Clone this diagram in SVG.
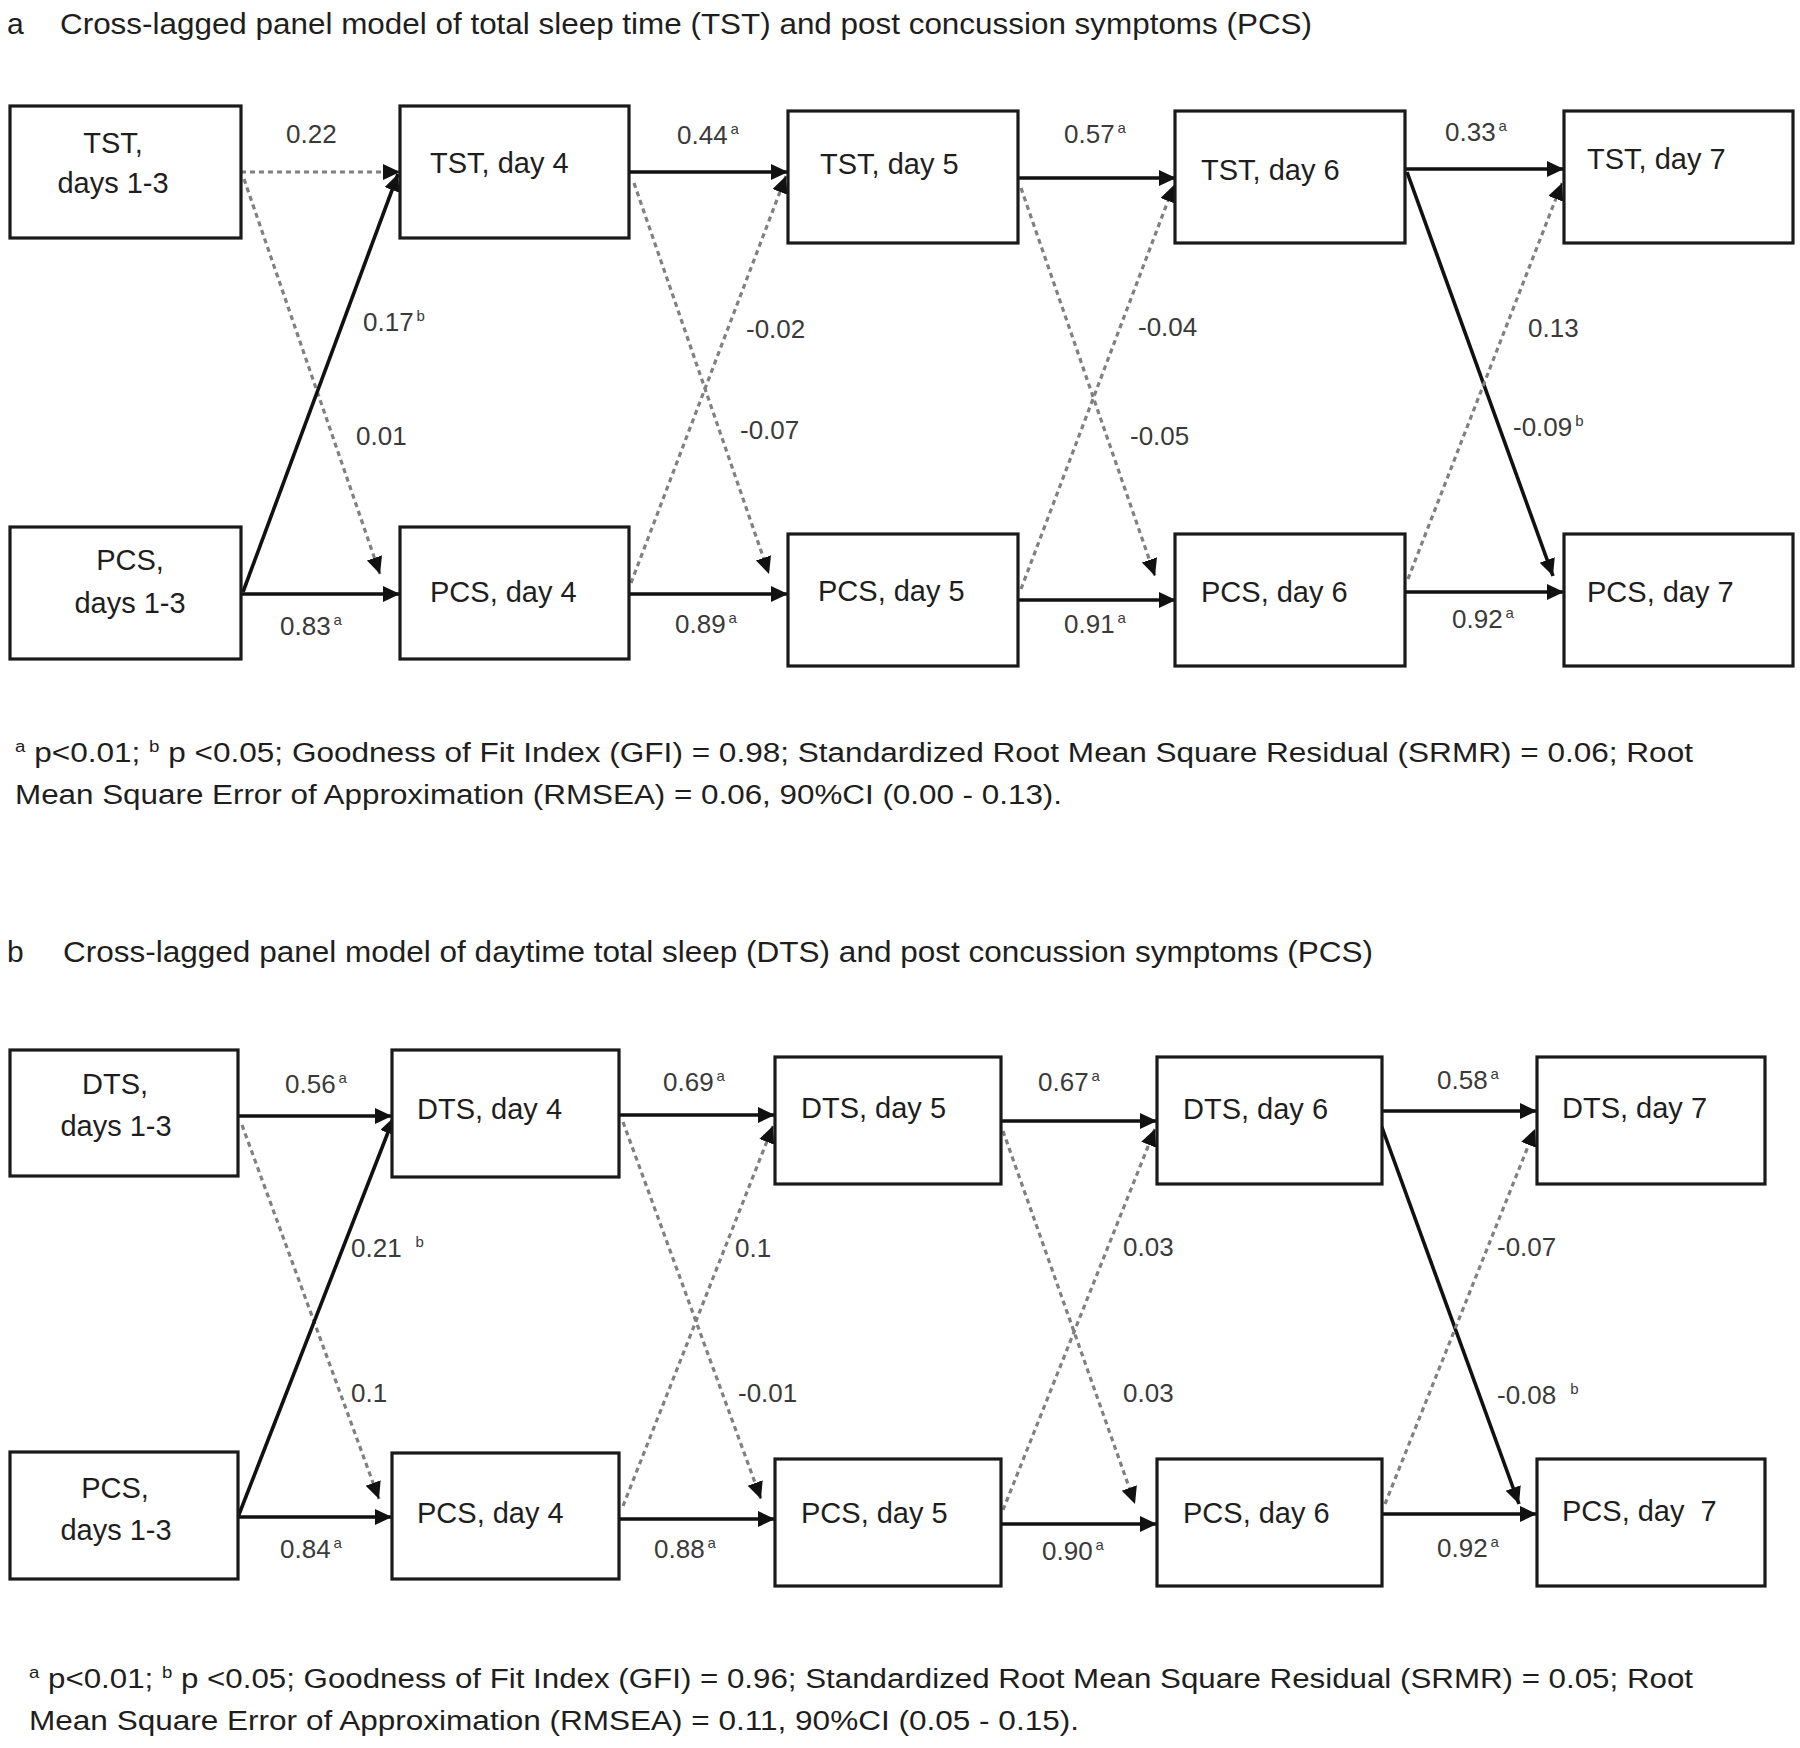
<svg xmlns="http://www.w3.org/2000/svg" width="1800" height="1748" viewBox="0 0 1800 1748">
<style>
  .box { fill: #ffffff; stroke: #1a1a1a; stroke-width: 3.2; }
  .bt { font-family: "Liberation Sans", Arial, sans-serif; font-size: 29px; fill: #1e1e1e; }
  .lb { font-family: "Liberation Sans", Arial, sans-serif; font-size: 26px; fill: #3a3a3a; }
  .sup { font-size: 15px; }
  .title { font-family: "Liberation Sans", Arial, sans-serif; font-size: 30px; fill: #1e1e1e; }
  .fn { font-family: "Liberation Sans", Arial, sans-serif; font-size: 27px; fill: #1e1e1e; }
  .solid { stroke: #111111; stroke-width: 3.6; fill: none; marker-end: url(#arr); }
  .dot { stroke: #808080; stroke-width: 3.2; stroke-dasharray: 5 4; fill: none; marker-end: url(#arr); }
</style>
<defs>
  <marker id="arr" markerUnits="userSpaceOnUse" markerWidth="20" markerHeight="18" refX="17" refY="8" orient="auto">
    <path d="M0,0 L17,8 L0,16 Z" fill="#111111" stroke="none"/>
  </marker>
</defs>
<rect width="1800" height="1748" fill="#ffffff"/>

<!-- Panel a title -->
<text class="title" x="7" y="34">a</text>
<text class="title" x="60" y="34" textLength="1252" lengthAdjust="spacingAndGlyphs">Cross-lagged panel model of total sleep time (TST) and post concussion symptoms (PCS)</text>

<!-- Panel a connectors -->
<g id="connectors-a">
  <line class="dot" x1="241" y1="172" x2="400" y2="172"/>
  <line class="dot" x1="244" y1="179" x2="380" y2="574"/>
  <line class="solid" x1="243" y1="592" x2="398" y2="174"/>
  <line class="solid" x1="241" y1="594" x2="400" y2="594"/>
  <line class="solid" x1="629" y1="172" x2="788" y2="172"/>
  <line class="dot" x1="634" y1="183" x2="769" y2="574"/>
  <line class="dot" x1="631" y1="583" x2="786" y2="176"/>
  <line class="solid" x1="629" y1="594" x2="788" y2="594"/>
  <line class="solid" x1="1018" y1="178" x2="1176" y2="178"/>
  <line class="dot" x1="1021" y1="188" x2="1155" y2="576"/>
  <line class="dot" x1="1021" y1="589" x2="1174" y2="185"/>
  <line class="solid" x1="1018" y1="600" x2="1176" y2="600"/>
  <line class="solid" x1="1406" y1="169" x2="1564" y2="169"/>
  <line class="solid" x1="1407" y1="172" x2="1553" y2="576"/>
  <line class="dot" x1="1408" y1="579" x2="1562" y2="183"/>
  <line class="solid" x1="1406" y1="592" x2="1564" y2="592"/>
</g>

<!-- Panel a nodes -->
<g id="a-tst13"><rect class="box" x="10" y="106" width="231" height="132"/>
  <text class="bt" x="113" y="153" text-anchor="middle">TST,</text>
  <text class="bt" x="113" y="193" text-anchor="middle">days 1-3</text></g>
<g id="a-tst4"><rect class="box" x="400" y="106" width="229" height="132"/>
  <text class="bt" x="430" y="173">TST, day 4</text></g>
<g id="a-tst5"><rect class="box" x="788" y="111" width="230" height="132"/>
  <text class="bt" x="820" y="174">TST, day 5</text></g>
<g id="a-tst6"><rect class="box" x="1175" y="111" width="230" height="132"/>
  <text class="bt" x="1201" y="180">TST, day 6</text></g>
<g id="a-tst7"><rect class="box" x="1564" y="111" width="229" height="132"/>
  <text class="bt" x="1587" y="169">TST, day 7</text></g>
<g id="a-pcs13"><rect class="box" x="10" y="527" width="231" height="132"/>
  <text class="bt" x="130" y="570" text-anchor="middle">PCS,</text>
  <text class="bt" x="130" y="613" text-anchor="middle">days 1-3</text></g>
<g id="a-pcs4"><rect class="box" x="400" y="527" width="229" height="132"/>
  <text class="bt" x="430" y="602">PCS, day 4</text></g>
<g id="a-pcs5"><rect class="box" x="788" y="534" width="230" height="132"/>
  <text class="bt" x="818" y="601">PCS, day 5</text></g>
<g id="a-pcs6"><rect class="box" x="1175" y="534" width="230" height="132"/>
  <text class="bt" x="1201" y="602">PCS, day 6</text></g>
<g id="a-pcs7"><rect class="box" x="1564" y="534" width="229" height="132"/>
  <text class="bt" x="1587" y="602">PCS, day 7</text></g>

<!-- Panel a labels -->
<g id="labels-a">
  <text class="lb" x="286" y="143">0.22</text>
  <text class="lb" x="677" y="144">0.44<tspan class="sup" dx="3" dy="-10">a</tspan></text>
  <text class="lb" x="1064" y="143">0.57<tspan class="sup" dx="3" dy="-10">a</tspan></text>
  <text class="lb" x="1445" y="141">0.33<tspan class="sup" dx="3" dy="-10">a</tspan></text>
  <text class="lb" x="363" y="331">0.17<tspan class="sup" dx="3" dy="-10">b</tspan></text>
  <text class="lb" x="356" y="445">0.01</text>
  <text class="lb" x="746" y="338">-0.02</text>
  <text class="lb" x="740" y="439">-0.07</text>
  <text class="lb" x="1138" y="336">-0.04</text>
  <text class="lb" x="1130" y="445">-0.05</text>
  <text class="lb" x="1528" y="337">0.13</text>
  <text class="lb" x="1513" y="436">-0.09<tspan class="sup" dx="3" dy="-10">b</tspan></text>
  <text class="lb" x="280" y="635">0.83<tspan class="sup" dx="3" dy="-10">a</tspan></text>
  <text class="lb" x="675" y="633">0.89<tspan class="sup" dx="3" dy="-10">a</tspan></text>
  <text class="lb" x="1064" y="633">0.91<tspan class="sup" dx="3" dy="-10">a</tspan></text>
  <text class="lb" x="1452" y="628">0.92<tspan class="sup" dx="3" dy="-10">a</tspan></text>
</g>

<!-- Panel a footnote -->
<text class="fn" x="15" y="762" textLength="1678" lengthAdjust="spacingAndGlyphs"><tspan font-size="16" dy="-10">a</tspan><tspan dy="10"> p&lt;0.01; </tspan><tspan font-size="16" dy="-10">b</tspan><tspan dy="10"> p &lt;0.05; Goodness of Fit Index (GFI) = 0.98; Standardized Root Mean Square Residual (SRMR) = 0.06; Root</tspan></text>
<text class="fn" x="15" y="804" textLength="1047" lengthAdjust="spacingAndGlyphs">Mean Square Error of Approximation (RMSEA) = 0.06, 90%CI (0.00 - 0.13).</text>

<!-- Panel b title -->
<text class="title" x="7" y="962">b</text>
<text class="title" x="63" y="962" textLength="1310" lengthAdjust="spacingAndGlyphs">Cross-lagged panel model of daytime total sleep (DTS) and post concussion symptoms (PCS)</text>

<!-- Panel b connectors -->
<g id="connectors-b">
  <line class="solid" x1="238" y1="1116" x2="392" y2="1116"/>
  <line class="dot" x1="242" y1="1125" x2="379" y2="1499"/>
  <line class="solid" x1="238" y1="1517" x2="394" y2="1117"/>
  <line class="solid" x1="238" y1="1517" x2="392" y2="1517"/>
  <line class="solid" x1="619" y1="1115" x2="775" y2="1115"/>
  <line class="dot" x1="623" y1="1122" x2="761" y2="1499"/>
  <line class="dot" x1="623" y1="1506" x2="773" y2="1126"/>
  <line class="solid" x1="619" y1="1519" x2="775" y2="1519"/>
  <line class="solid" x1="1001" y1="1121" x2="1157" y2="1121"/>
  <line class="dot" x1="1003" y1="1131" x2="1135" y2="1504"/>
  <line class="dot" x1="1003" y1="1510" x2="1155" y2="1129"/>
  <line class="solid" x1="1001" y1="1524" x2="1157" y2="1524"/>
  <line class="solid" x1="1382" y1="1111" x2="1537" y2="1111"/>
  <line class="solid" x1="1380" y1="1122" x2="1519" y2="1504"/>
  <line class="dot" x1="1385" y1="1504" x2="1535" y2="1129"/>
  <line class="solid" x1="1382" y1="1514" x2="1537" y2="1514"/>
</g>

<!-- Panel b nodes -->
<g id="b-dts13"><rect class="box" x="10" y="1050" width="228" height="126"/>
  <text class="bt" x="115" y="1094" text-anchor="middle">DTS,</text>
  <text class="bt" x="116" y="1136" text-anchor="middle">days 1-3</text></g>
<g id="b-dts4"><rect class="box" x="392" y="1050" width="227" height="127"/>
  <text class="bt" x="417" y="1119">DTS, day 4</text></g>
<g id="b-dts5"><rect class="box" x="775" y="1057" width="226" height="127"/>
  <text class="bt" x="801" y="1118">DTS, day 5</text></g>
<g id="b-dts6"><rect class="box" x="1157" y="1057" width="225" height="127"/>
  <text class="bt" x="1183" y="1119">DTS, day 6</text></g>
<g id="b-dts7"><rect class="box" x="1537" y="1057" width="228" height="127"/>
  <text class="bt" x="1562" y="1118">DTS, day 7</text></g>
<g id="b-pcs13"><rect class="box" x="10" y="1452" width="228" height="127"/>
  <text class="bt" x="115" y="1498" text-anchor="middle">PCS,</text>
  <text class="bt" x="116" y="1540" text-anchor="middle">days 1-3</text></g>
<g id="b-pcs4"><rect class="box" x="392" y="1453" width="227" height="126"/>
  <text class="bt" x="417" y="1523">PCS, day 4</text></g>
<g id="b-pcs5"><rect class="box" x="775" y="1459" width="226" height="127"/>
  <text class="bt" x="801" y="1523">PCS, day 5</text></g>
<g id="b-pcs6"><rect class="box" x="1157" y="1459" width="225" height="127"/>
  <text class="bt" x="1183" y="1523">PCS, day 6</text></g>
<g id="b-pcs7"><rect class="box" x="1537" y="1459" width="228" height="127"/>
  <text class="bt" x="1562" y="1521" xml:space="preserve">PCS, day  7</text></g>

<!-- Panel b labels -->
<g id="labels-b">
  <text class="lb" x="285" y="1093">0.56<tspan class="sup" dx="3" dy="-10">a</tspan></text>
  <text class="lb" x="663" y="1091">0.69<tspan class="sup" dx="3" dy="-10">a</tspan></text>
  <text class="lb" x="1038" y="1091">0.67<tspan class="sup" dx="3" dy="-10">a</tspan></text>
  <text class="lb" x="1437" y="1089">0.58<tspan class="sup" dx="3" dy="-10">a</tspan></text>
  <text class="lb" x="351" y="1257">0.21<tspan class="sup" dx="14" dy="-10">b</tspan></text>
  <text class="lb" x="351" y="1402">0.1</text>
  <text class="lb" x="735" y="1257">0.1</text>
  <text class="lb" x="738" y="1402">-0.01</text>
  <text class="lb" x="1123" y="1256">0.03</text>
  <text class="lb" x="1123" y="1402">0.03</text>
  <text class="lb" x="1497" y="1256">-0.07</text>
  <text class="lb" x="1497" y="1404">-0.08<tspan class="sup" dx="14" dy="-10">b</tspan></text>
  <text class="lb" x="280" y="1558">0.84<tspan class="sup" dx="3" dy="-10">a</tspan></text>
  <text class="lb" x="654" y="1558">0.88<tspan class="sup" dx="3" dy="-10">a</tspan></text>
  <text class="lb" x="1042" y="1560">0.90<tspan class="sup" dx="3" dy="-10">a</tspan></text>
  <text class="lb" x="1437" y="1557">0.92<tspan class="sup" dx="3" dy="-10">a</tspan></text>
</g>

<!-- Panel b footnote -->
<text class="fn" x="29" y="1688" textLength="1664" lengthAdjust="spacingAndGlyphs"><tspan font-size="16" dy="-10">a</tspan><tspan dy="10"> p&lt;0.01; </tspan><tspan font-size="16" dy="-10">b</tspan><tspan dy="10"> p &lt;0.05; Goodness of Fit Index (GFI) = 0.96; Standardized Root Mean Square Residual (SRMR) = 0.05; Root</tspan></text>
<text class="fn" x="29" y="1730" textLength="1050" lengthAdjust="spacingAndGlyphs">Mean Square Error of Approximation (RMSEA) = 0.11, 90%CI (0.05 - 0.15).</text>
</svg>
